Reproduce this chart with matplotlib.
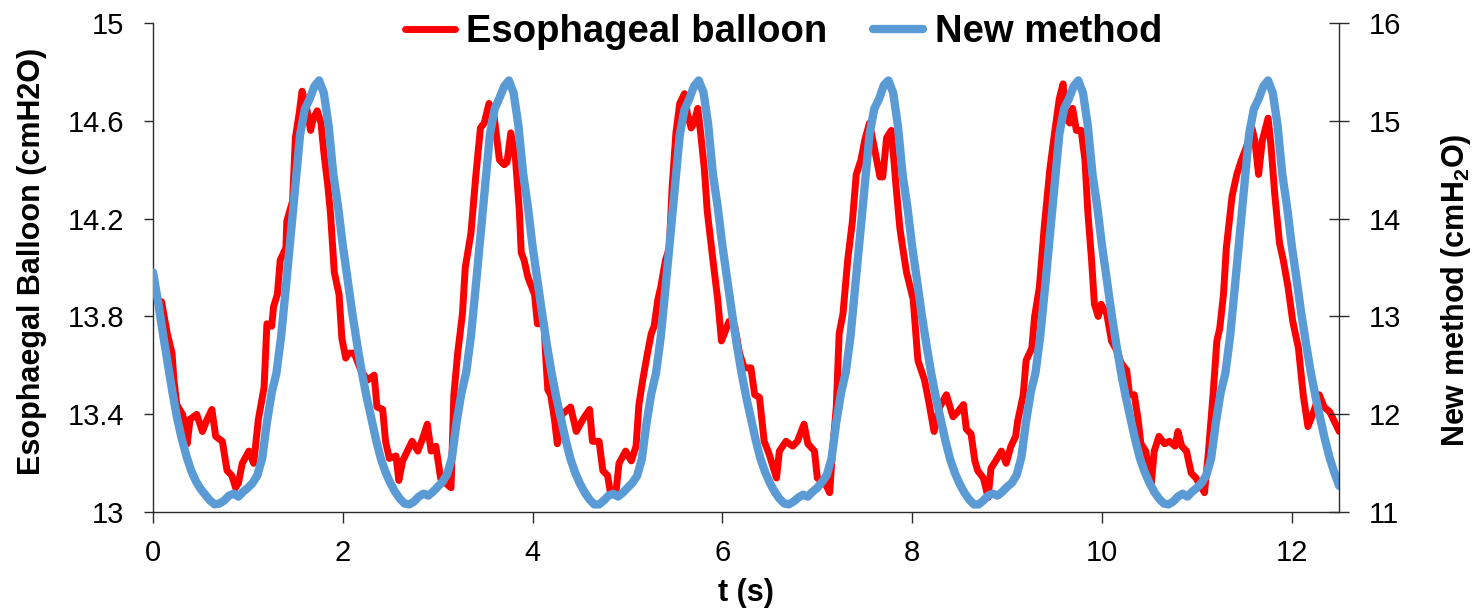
import numpy as np
import matplotlib
matplotlib.use("Agg")
from matplotlib import pyplot as plt

plt.rcParams['font.family'] = ['Liberation Sans', 'DejaVu Sans']
plt.rcParams['mathtext.fontset'] = 'custom'
plt.rcParams['mathtext.rm'] = 'Liberation Sans:bold'
plt.rcParams['mathtext.bf'] = 'Liberation Sans:bold'

# esophageal balloon trace (t in s, cmH2O on left axis)
t_balloon = [0.00, 0.09, 0.15, 0.20, 0.22, 0.25, 0.31, 0.34, 0.36, 0.39, 0.46, 0.52, 0.57, 0.62, 0.66,
             0.73, 0.78, 0.83, 0.87, 0.90, 0.94, 1.01, 1.06, 1.11, 1.17, 1.20, 1.25, 1.27, 1.31, 1.34,
             1.40, 1.41, 1.47, 1.50, 1.54, 1.57, 1.61, 1.66, 1.69, 1.73, 1.77, 1.80, 1.84, 1.87, 1.91,
             1.96, 1.99, 2.03, 2.06, 2.12, 2.19, 2.26, 2.33, 2.36, 2.42, 2.45, 2.49, 2.56, 2.59, 2.63,
             2.68, 2.73, 2.79, 2.84, 2.89, 2.93, 2.98, 3.03, 3.08, 3.14, 3.17, 3.21, 3.26, 3.29, 3.35,
             3.40, 3.45, 3.49, 3.54, 3.59, 3.65, 3.70, 3.73, 3.77, 3.82, 3.86, 3.88, 3.91, 3.95, 4.02,
             4.05, 4.12, 4.14, 4.16, 4.19, 4.23, 4.26, 4.31, 4.40, 4.46, 4.53, 4.60, 4.63, 4.70, 4.74,
             4.79, 4.82, 4.88, 4.91, 4.98, 5.04, 5.09, 5.12, 5.16, 5.21, 5.25, 5.28, 5.32, 5.35, 5.40,
             5.44, 5.47, 5.51, 5.55, 5.60, 5.63, 5.67, 5.70, 5.74, 5.77, 5.81, 5.84, 5.90, 5.95, 5.99,
             6.02, 6.07, 6.13, 6.18, 6.23, 6.30, 6.34, 6.39, 6.44, 6.49, 6.57, 6.60, 6.67, 6.74, 6.79,
             6.86, 6.90, 6.97, 7.00, 7.08, 7.13, 7.16, 7.20, 7.23, 7.27, 7.32, 7.37, 7.41, 7.46, 7.50,
             7.55, 7.60, 7.66, 7.69, 7.73, 7.78, 7.83, 7.87, 7.90, 7.94, 8.01, 8.06, 8.13, 8.18, 8.23,
             8.29, 8.36, 8.43, 8.48, 8.54, 8.57, 8.62, 8.66, 8.69, 8.75, 8.80, 8.83, 8.88, 8.94, 8.99,
             9.04, 9.09, 9.11, 9.17, 9.20, 9.26, 9.29, 9.34, 9.39, 9.45, 9.50, 9.55, 9.59, 9.62, 9.66,
             9.69, 9.73, 9.78, 9.82, 9.85, 9.89, 9.92, 9.96, 9.99, 10.05, 10.10, 10.17, 10.20, 10.26, 10.29,
             10.34, 10.38, 10.41, 10.46, 10.50, 10.52, 10.55, 10.60, 10.66, 10.71, 10.77, 10.80, 10.84, 10.89, 10.94,
             10.99, 11.05, 11.08, 11.12, 11.17, 11.21, 11.24, 11.28, 11.31, 11.37, 11.42, 11.47, 11.52, 11.58, 11.61,
             11.65, 11.69, 11.75, 11.78, 11.82, 11.87, 11.91, 11.96, 12.01, 12.07, 12.12, 12.17, 12.22, 12.29, 12.34,
             12.40, 12.45, 12.50]
p_balloon = [13.87, 13.86, 13.73, 13.65, 13.54, 13.44, 13.40, 13.36, 13.28, 13.38, 13.40, 13.33, 13.38, 13.42, 13.31,
             13.29, 13.17, 13.15, 13.10, 13.12, 13.20, 13.25, 13.20, 13.38, 13.51, 13.77, 13.76, 13.84, 13.89, 14.03,
             14.08, 14.19, 14.27, 14.53, 14.63, 14.72, 14.67, 14.56, 14.61, 14.64, 14.59, 14.47, 14.34, 14.22, 13.98,
             13.89, 13.71, 13.63, 13.65, 13.65, 13.58, 13.54, 13.56, 13.43, 13.42, 13.29, 13.22, 13.23, 13.13, 13.21,
             13.25, 13.29, 13.25, 13.30, 13.36, 13.25, 13.27, 13.14, 13.12, 13.10, 13.48, 13.65, 13.81, 14.00, 14.14,
             14.37, 14.57, 14.59, 14.67, 14.63, 14.44, 14.42, 14.43, 14.55, 14.44, 14.23, 14.06, 14.03, 13.96, 13.89,
             13.77, 13.77, 13.62, 13.50, 13.48, 13.38, 13.28, 13.40, 13.43, 13.33, 13.38, 13.42, 13.29, 13.29, 13.17,
             13.15, 13.08, 13.09, 13.20, 13.25, 13.21, 13.27, 13.44, 13.54, 13.65, 13.73, 13.76, 13.87, 13.92, 14.03,
             14.08, 14.33, 14.55, 14.67, 14.71, 14.63, 14.57, 14.59, 14.65, 14.55, 14.40, 14.23, 14.03, 13.87, 13.70,
             13.73, 13.78, 13.76, 13.65, 13.59, 13.59, 13.48, 13.47, 13.29, 13.24, 13.14, 13.25, 13.29, 13.27, 13.29,
             13.36, 13.28, 13.25, 13.14, 13.12, 13.08, 13.25, 13.43, 13.73, 13.81, 14.03, 14.19, 14.38, 14.44, 14.52,
             14.59, 14.49, 14.37, 14.37, 14.53, 14.56, 14.33, 14.16, 14.08, 13.98, 13.87, 13.62, 13.54, 13.44, 13.33,
             13.43, 13.48, 13.39, 13.41, 13.44, 13.34, 13.32, 13.21, 13.17, 13.14, 13.06, 13.18, 13.21, 13.25, 13.20,
             13.27, 13.31, 13.37, 13.48, 13.62, 13.67, 13.80, 13.92, 14.16, 14.40, 14.55, 14.69, 14.75, 14.61, 14.59,
             14.65, 14.56, 14.56, 14.44, 14.23, 14.03, 13.85, 13.80, 13.85, 13.81, 13.70, 13.65, 13.61, 13.58, 13.48,
             13.48, 13.38, 13.28, 13.25, 13.16, 13.12, 13.25, 13.31, 13.28, 13.29, 13.27, 13.33, 13.27, 13.25, 13.16,
             13.14, 13.10, 13.08, 13.24, 13.48, 13.70, 13.75, 13.89, 14.08, 14.29, 14.38, 14.44, 14.49, 14.57, 14.52,
             14.38, 14.52, 14.61, 14.50, 14.30, 14.10, 14.03, 13.92, 13.78, 13.67, 13.48, 13.35, 13.40, 13.48, 13.43,
             13.41, 13.37, 13.33]

# new method trace, one reading every 0.05 s (cmH2O on right axis)
p_new = [13.45, 13.17, 12.85, 12.55, 12.25, 11.98, 11.76, 11.58, 11.43, 11.32,
         11.24, 11.18, 11.12, 11.08, 11.09, 11.12, 11.17, 11.19, 11.16, 11.21,
         11.25, 11.30, 11.38, 11.55, 11.92, 12.22, 12.42, 12.80, 13.30, 13.82,
         14.34, 14.86, 15.12, 15.22, 15.35, 15.41, 15.28, 14.95, 14.45, 14.12,
         13.72, 13.38, 13.03, 12.72, 12.43, 12.18, 11.96, 11.74, 11.55, 11.41,
         11.30, 11.21, 11.14, 11.09, 11.08, 11.11, 11.16, 11.19, 11.17, 11.21,
         11.26, 11.31, 11.39, 11.56, 11.93, 12.22, 12.43, 12.80, 13.30, 13.82,
         14.34, 14.86, 15.12, 15.23, 15.35, 15.41, 15.28, 14.95, 14.46, 14.12,
         13.71, 13.37, 13.03, 12.71, 12.42, 12.17, 11.95, 11.73, 11.54, 11.40,
         11.29, 11.20, 11.13, 11.08, 11.08, 11.12, 11.17, 11.19, 11.16, 11.20,
         11.25, 11.30, 11.37, 11.54, 11.91, 12.21, 12.42, 12.79, 13.29, 13.81,
         14.33, 14.85, 15.11, 15.22, 15.35, 15.41, 15.29, 14.96, 14.45, 14.12,
         13.72, 13.38, 13.04, 12.72, 12.43, 12.18, 11.96, 11.74, 11.55, 11.41,
         11.30, 11.21, 11.14, 11.09, 11.08, 11.11, 11.15, 11.18, 11.16, 11.21,
         11.25, 11.31, 11.38, 11.55, 11.92, 12.22, 12.43, 12.80, 13.31, 13.82,
         14.34, 14.86, 15.12, 15.22, 15.36, 15.41, 15.28, 14.94, 14.44, 14.11,
         13.71, 13.37, 13.02, 12.71, 12.42, 12.17, 11.95, 11.73, 11.54, 11.40,
         11.29, 11.20, 11.13, 11.08, 11.08, 11.12, 11.17, 11.19, 11.17, 11.21,
         11.26, 11.30, 11.38, 11.56, 11.93, 12.23, 12.43, 12.81, 13.30, 13.82,
         14.34, 14.86, 15.12, 15.22, 15.35, 15.41, 15.28, 14.95, 14.45, 14.12,
         13.72, 13.38, 13.03, 12.72, 12.43, 12.18, 11.96, 11.74, 11.55, 11.41,
         11.30, 11.21, 11.14, 11.09, 11.08, 11.11, 11.16, 11.19, 11.16, 11.21,
         11.25, 11.30, 11.38, 11.55, 11.92, 12.22, 12.42, 12.80, 13.30, 13.82,
         14.34, 14.86, 15.12, 15.22, 15.35, 15.41, 15.28, 14.95, 14.45, 14.12,
         13.72, 13.38, 13.03, 12.72, 12.43, 12.18, 11.96, 11.74, 11.55, 11.40,
         11.27]
t_new = np.arange(len(p_new)) * 0.05

x_ticks = [0, 2, 4, 6, 8, 10, 12]
left_ticks = [13, 13.4, 13.8, 14.2, 14.6, 15]
right_ticks = [11, 12, 13, 14, 15, 16]

red = '#FF0000'
blue = '#5B9BD5'
axis_col = '#2b2b2b'

fig = plt.figure(figsize=(14.73, 6.10), dpi=100)
ax = fig.add_axes([0.1039, 0.1602, 0.9092 - 0.1039, 0.9628 - 0.1602])
ax2 = ax.twinx()

l1, = ax.plot(t_balloon, p_balloon, color=red, lw=5, solid_joinstyle='round', solid_capstyle='round',
              label='Esophageal balloon')
l2, = ax2.plot(t_new, p_new, color=blue, lw=6, solid_joinstyle='round', solid_capstyle='round',
               label='New method')

ax.set_xlim(0, 12.5)
ax.set_ylim(13, 15)
ax2.set_ylim(11, 16)

ax.set_xticks(x_ticks)
ax.set_xticklabels([str(v) for v in x_ticks])
ax.set_yticks(left_ticks)
ax.set_yticklabels(['%g' % v for v in left_ticks])
ax2.set_yticks(right_ticks)
ax2.set_yticklabels([str(v) for v in right_ticks])

for a in (ax, ax2):
    a.spines['top'].set_visible(False)
    for s in a.spines.values():
        s.set_color(axis_col)
        s.set_linewidth(1.0)
ax.spines['right'].set_visible(False)
ax2.spines['left'].set_visible(False)
ax2.spines['bottom'].set_visible(False)

ax.tick_params(axis='x', direction='out', length=8, width=1, color=axis_col, pad=11.5, labelsize=21)
ax.tick_params(axis='y', direction='out', length=6.5, width=1, color=axis_col, pad=14, labelsize=21)
ax2.tick_params(axis='y', direction='inout', length=15, width=1, color=axis_col, pad=14, labelsize=21)

ax.set_xlabel('t (s)', fontsize=22, fontweight='bold')
ax.xaxis.set_label_coords(0.5, -0.134)
ax.set_ylabel('Esophaegal Balloon (cmH2O)', fontsize=22, fontweight='bold')
ax.yaxis.set_label_coords(-0.089, 0.513)
ax2.set_ylabel(r'New method (cmH$_\mathbf{2}$O)', fontsize=22, fontweight='bold')
ax2.yaxis.set_label_coords(1.084, 0.454)

fig.legend(handles=[l1, l2], loc='center', bbox_to_anchor=(0.532, 0.947), ncol=2, frameon=False,
           prop={'size': 27.5, 'weight': 'bold'}, handlelength=1.3, handletextpad=0.3,
           columnspacing=1.2, borderpad=0)

fig.savefig('out.png', dpi=100)
